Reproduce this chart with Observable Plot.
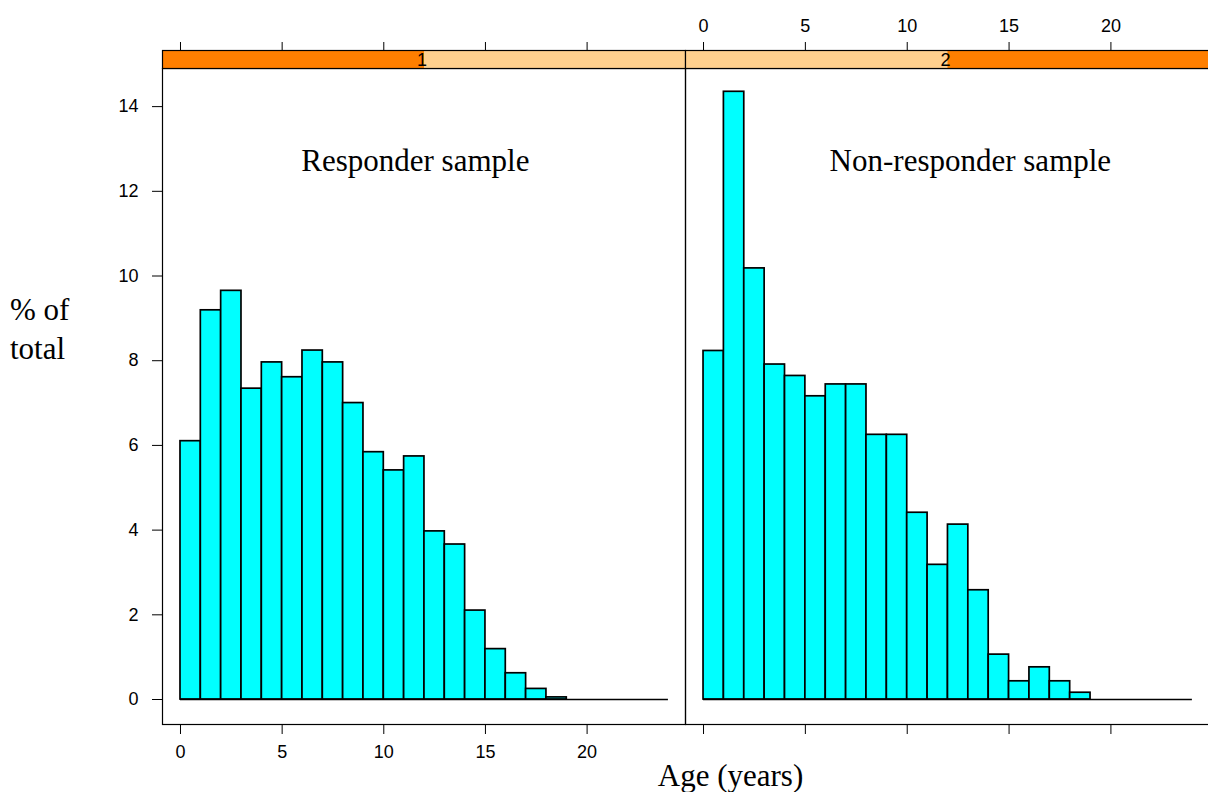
<!DOCTYPE html>
<html><head><meta charset="utf-8">
<script src="https://cdn.jsdelivr.net/npm/d3@7"></script>
<script src="https://cdn.jsdelivr.net/npm/@observablehq/plot@0.6"></script>
<style>
html,body{margin:0;padding:0;background:#fff;}
#wrap{position:relative;width:1208px;height:792px;overflow:hidden;font-family:"Liberation Serif","Times New Roman",serif;}
#wrap svg{position:absolute;top:0;max-width:none;overflow:visible;}
.lab{position:absolute;font-size:31px;color:#000;white-space:nowrap;}
</style></head><body><div id="wrap"></div>
<script>
// ---- data ----
const binEdges = [0,1,2,3,4,5,6,7,8,9,10,11,12,13,14,15,16,17,18,19,20,21,22,23,24];
const responderPct = [6.10, 9.19, 9.65, 7.34, 7.96, 7.61, 8.24, 7.96, 7.00, 5.84, 5.41, 5.74, 3.97, 3.66, 2.10, 1.19, 0.62, 0.25, 0.05, 0, 0, 0, 0, 0];
const nonResponderPct = [8.23, 14.35, 10.18, 7.91, 7.64, 7.16, 7.44, 7.44, 6.25, 6.25, 4.41, 3.18, 4.13, 2.58, 1.06, 0.43, 0.76, 0.43, 0.16, 0, 0, 0, 0, 0];
const panelLabels = ["Responder sample", "Non-responder sample"];
const stripLevels = ["1", "2"];
const xTicks = [0, 5, 10, 15, 20];
const yTicks = [0, 2, 4, 6, 8, 10, 12, 14];
const xTitle = "Age (years)";
const yTitle = ["% of", "total"];

// ---- layout ----
const wrap = document.getElementById("wrap");
const xDomain = [-0.885, 24.84];
const yDomain = [-0.59, 14.9];
const H = 792, MT = 68, MB = 68, STRIP = 18;
const tickFont = "'Liberation Sans',Arial,sans-serif";
const TF = 18;
const panels = [
  {values: responderPct, left: 0, width: 686, ml: 162, mr: 1, yAxis: true, bottomLabels: true, topLabels: false, annX: 11.55, annY: 12.71},
  {values: nonResponderPct, left: 685, width: 524, ml: 0, mr: 0, yAxis: false, bottomLabels: false, topLabels: true, annX: 13.1, annY: 12.71}
];
const blank = () => "";

panels.forEach((p, i) => {
  const bins = p.values.map((v, k) => ({x0: binEdges[k], x1: binEdges[k + 1], pct: v}));
  const marks = [
    Plot.rectY(bins.filter(d => d.pct > 0), {x1: "x0", x2: "x1", y: "pct", fill: "#00FFFF", stroke: "black", strokeWidth: 1.7}),
    Plot.ruleY([0], {x1: d3.min(binEdges), x2: d3.max(binEdges), stroke: "black", strokeWidth: 1.7}),
    Plot.frame({stroke: "black", strokeWidth: 1.2}),
    Plot.axisX(xTicks, {anchor: "bottom", label: null, tickSize: 10, tickPadding: 11, fontSize: TF, fontFamily: tickFont, tickFormat: p.bottomLabels ? d => d : blank}),
    Plot.axisX(xTicks, {anchor: "top", label: null, tickSize: 9, tickPadding: 10, dy: -STRIP, fontSize: TF, fontFamily: tickFont, tickFormat: p.topLabels ? d => d : blank}),
    Plot.text([panelLabels[i]], {x: p.annX, y: p.annY, text: d => d, fontSize: 31, fontFamily: "'Liberation Serif','Times New Roman',serif", fill: "black"})
  ];
  if (p.yAxis) marks.push(Plot.axisY(yTicks, {anchor: "left", label: null, tickSize: 10, tickPadding: 14, fontSize: TF, fontFamily: tickFont}));
  const svg = Plot.plot({
    width: p.width, height: H,
    marginLeft: p.ml, marginRight: p.mr, marginTop: MT, marginBottom: MB,
    x: {domain: xDomain, axis: null, label: null},
    y: {domain: yDomain, axis: null, label: null},
    style: {background: "transparent", fontFamily: tickFont, fontSize: TF + "px", color: "black", overflow: "visible"},
    marks
  });
  svg.style.left = p.left + "px";
  wrap.appendChild(svg);
  // strip (lattice-style level indicator)
  const [r0, r1] = svg.scale("x").range;
  const n = stripLevels.length, w = r1 - r0;
  const g = d3.select(svg).append("g").attr("transform", "translate(0.5,0.5)");
  const top = MT - STRIP;
  g.append("rect").attr("x", r0).attr("y", top).attr("width", w).attr("height", STRIP).attr("fill", "#FFD08E");
  g.append("rect").attr("x", r0 + w * i / n).attr("y", top).attr("width", w / n).attr("height", STRIP).attr("fill", "#FF7F00");
  g.append("rect").attr("x", r0).attr("y", top).attr("width", w).attr("height", STRIP).attr("fill", "none").attr("stroke", "black").attr("stroke-width", 1.2);
  g.append("text").attr("x", (r0 + r1) / 2 - 2).attr("y", top + STRIP / 2).attr("dy", "0.36em")
    .attr("text-anchor", "middle").attr("font-family", tickFont).attr("font-size", 18).attr("fill", "black")
    .text(stripLevels[i]);
});

// axis titles
const yl = document.createElement("div");
yl.className = "lab";
yl.style.left = "10px"; yl.style.top = "290px"; yl.style.lineHeight = "39px";
yl.innerHTML = yTitle.join("<br>");
wrap.appendChild(yl);
const xl = document.createElement("div");
xl.className = "lab";
xl.style.left = "730.5px"; xl.style.top = "760px"; xl.style.lineHeight = "31px"; xl.style.transform = "translateX(-50%)";
xl.textContent = xTitle;
wrap.appendChild(xl);
</script></body></html>
